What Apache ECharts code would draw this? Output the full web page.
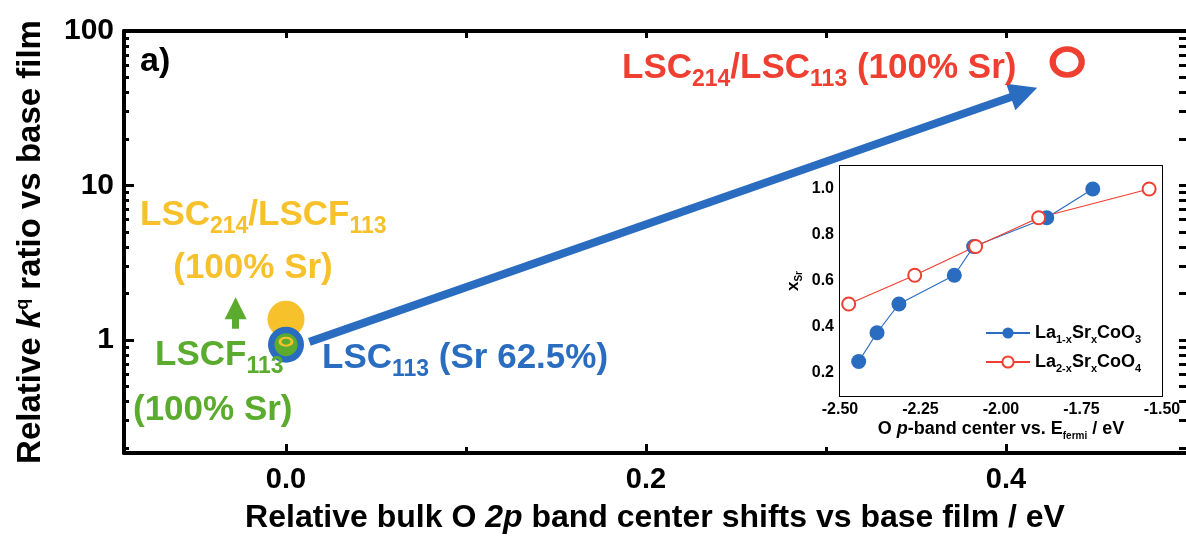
<!DOCTYPE html>
<html>
<head>
<meta charset="utf-8">
<script src="https://cdn.jsdelivr.net/npm/echarts@6/dist/echarts.min.js"></script>
<style>html,body{margin:0;padding:0;background:#fff}#c{width:1186px;height:539px}</style>
</head>
<body>
<div id="c"></div>
<script>
// ---- main panel data ----
const xMajorTicks = [0, 0.2, 0.4];
const xMinorTicks = [0.1, 0.3];
const yMajorTicks = [1, 10, 100];
const yMinorTicks = [0.2,0.3,0.4,0.5,0.6,0.7,0.8,0.9,2,3,4,5,6,7,8,9,20,30,40,50,60,70,80,90];
const lsc113 = [[0, 0.93]];
const lscf113 = [[0, 0.93]];
const lsc214Lscf113 = [[0, 1.36]];
const lsc214Lsc113 = [[0.434, 63]];
const shiftArrow = [[0.013, 0.97], [0.41, 40]];
const lscfArrow = [[-0.028, 1.18], [-0.028, 1.6]];
// ---- inset data ----
const insetXTicks = ['-2.50', '-2.25', '-2.00', '-1.75', '-1.50'];
const insetYTicks = ['0.2', '0.4', '0.6', '0.8', '1.0'];
const la1SrCoO3 = [[-2.442,0.25],[-2.385,0.375],[-2.317,0.5],[-2.145,0.625],[-2.085,0.75],[-1.858,0.875],[-1.715,1.0]];
const la2SrCoO4 = [[-2.473,0.5],[-2.268,0.625],[-2.079,0.75],[-1.883,0.875],[-1.540,1.0]];

const FF = '"Liberation Sans", Arial, sans-serif';
const BLUE = '#2a6cc0', RED = '#ef3f30', YEL = '#f7c12c', GRN = '#5aab2e';

function sub(color, size, drop) {
  return {color: color, fill: color, fontFamily: FF, fontWeight: 'bold', fontSize: size, padding: [drop, 0, 0, 0]};
}
function main(color, size) {
  return {color: color, fill: color, fontFamily: FF, fontWeight: 'bold', fontSize: size};
}
function txt(x, y, text, color, size, subSize, drop, align) {
  return {type: 'text', x: x, y: y, z: 50, style: {
    text: text, align: align || 'left', verticalAlign: 'middle', fill: color,
    font: 'bold ' + size + 'px ' + FF,
    rich: {b: main(color, size), s: sub(color, subSize, drop)}
  }};
}

const chart = echarts.init(document.getElementById('c'), null, {renderer: 'canvas'});
const axBase = {splitLine: {show: false}, axisLine: {onZero: false, lineStyle: {color: '#000', width: 4}}};
const noLine = {show: false, onZero: false};

const option = {
  animation: false,
  textStyle: {fontFamily: FF},
  grid: [
    {left: 124, top: 31, width: 1065, height: 422},
    {left: 840, top: 166, width: 322, height: 230, z: 10}
  ],
  xAxis: [
    {gridIndex: 0, type: 'value', position: 'bottom', min: -0.09, max: 0.5,
      ...axBase,
      axisTick: {inside: true, length: 9, lineStyle: {width: 3, color: '#000'}, customValues: xMajorTicks},
      axisLabel: {customValues: xMajorTicks, formatter: v => v.toFixed(1), fontSize: 29, fontWeight: 'bold', color: '#000', margin: 12},
      name: 'Relative bulk O {i|2p} band center shifts vs base film / eV',
      nameLocation: 'middle', nameGap: 49,
      nameTextStyle: {fontSize: 32, fontWeight: 'bold', color: '#000', rich: {i: {fontSize: 32, fontWeight: 'bold', fontStyle: 'italic', color: '#000'}}}
    },
    {gridIndex: 0, type: 'value', position: 'bottom', min: -0.09, max: 0.5,
      splitLine: {show: false}, axisLine: noLine, axisLabel: {show: false},
      axisTick: {inside: true, length: 6, lineStyle: {width: 3, color: '#000'}, customValues: xMinorTicks}
    },
    {gridIndex: 0, type: 'value', position: 'top', min: -0.09, max: 0.5,
      ...axBase, axisLabel: {show: false},
      axisTick: {inside: true, length: 7, lineStyle: {width: 3, color: '#000'}, customValues: xMajorTicks.concat(xMinorTicks)}
    },
    {gridIndex: 1, type: 'value', position: 'bottom', min: -2.5, max: -1.5, interval: 0.125,
      splitLine: {show: false}, axisLine: {onZero: false, lineStyle: {color: '#000', width: 2}},
      axisTick: {inside: true, length: 4, lineStyle: {width: 1.5, color: '#000'}},
      axisLabel: {fontSize: 16, fontWeight: 'bold', color: '#000', margin: 6,
        formatter: v => { const s = v.toFixed(2); return insetXTicks.indexOf(s) >= 0 ? s : ''; }},
      name: 'O {i|p}-band center vs. E{s|fermi} / eV', nameLocation: 'middle', nameGap: 21,
      nameTextStyle: {fontSize: 18, fontWeight: 'bold', color: '#000',
        rich: {i: {fontSize: 18, fontWeight: 'bold', fontStyle: 'italic', color: '#000'},
               s: {fontSize: 10, fontWeight: 'bold', color: '#000', padding: [14, 0, 0, 0]}}}
    },
    {gridIndex: 1, type: 'value', position: 'top', min: -2.5, max: -1.5, interval: 0.125,
      splitLine: {show: false}, axisLine: {onZero: false, lineStyle: {color: '#000', width: 2}}, axisLabel: {show: false},
      axisTick: {inside: true, length: 4, lineStyle: {width: 1.5, color: '#000'}}
    }
  ],
  yAxis: [
    {gridIndex: 0, type: 'log', logBase: 10, min: 0.185, max: 100, position: 'left',
      ...axBase,
      axisTick: {inside: true, length: 10, lineStyle: {width: 3, color: '#000'}, customValues: yMajorTicks},
      axisLabel: {customValues: yMajorTicks, formatter: v => String(Math.round(v)), fontSize: 30, fontWeight: 'bold', color: '#000', margin: 10},
      name: '{n|Relative }{i|k}{q|q}{n| ratio vs base film}', nameLocation: 'middle', nameGap: 76, nameRotate: 90,
      nameTextStyle: {rich: {
        n: {fontSize: 33, fontWeight: 'bold', color: '#000'},
        i: {fontSize: 33, fontWeight: 'bold', fontStyle: 'italic', color: '#000'},
        q: {fontSize: 18, fontWeight: 'bold', color: '#000', padding: [0, 0, 16, 0]}
      }}
    },
    {gridIndex: 0, type: 'log', logBase: 10, min: 0.185, max: 100, position: 'left',
      splitLine: {show: false}, axisLine: noLine, axisLabel: {show: false},
      axisTick: {inside: true, length: 5, lineStyle: {width: 3, color: '#000'}, customValues: yMinorTicks}
    },
    {gridIndex: 0, type: 'log', logBase: 10, min: 0.185, max: 100, position: 'right',
      splitLine: {show: false}, axisLine: noLine, axisLabel: {show: false},
      axisTick: {inside: true, length: 7, lineStyle: {width: 3, color: '#000'}, customValues: yMinorTicks.concat(yMajorTicks)}
    },
    {gridIndex: 1, type: 'value', min: 0.1, max: 1.1, interval: 0.1, position: 'left',
      splitLine: {show: false}, axisLine: {onZero: false, lineStyle: {color: '#000', width: 2}},
      axisTick: {inside: true, length: 4, lineStyle: {width: 1.5, color: '#000'}},
      axisLabel: {fontSize: 16, fontWeight: 'bold', color: '#000', margin: 6,
        formatter: v => { const s = v.toFixed(1); return insetYTicks.indexOf(s) >= 0 ? s : ''; }},
      name: '{n|x}{s|Sr}', nameLocation: 'middle', nameGap: 36, nameRotate: 90,
      nameTextStyle: {rich: {n: {fontSize: 17, fontWeight: 'bold', color: '#000'},
        s: {fontSize: 10, fontWeight: 'bold', color: '#000', padding: [11, 0, 0, 0]}}}
    },
    {gridIndex: 1, type: 'value', min: 0.1, max: 1.1, interval: 0.1, position: 'right',
      splitLine: {show: false}, axisLine: {onZero: false, lineStyle: {color: '#000', width: 2}}, axisLabel: {show: false},
      axisTick: {inside: true, length: 4, lineStyle: {width: 1.5, color: '#000'}}
    }
  ],
  legend: {
    orient: 'vertical', left: 980, top: 319, itemWidth: 44, itemHeight: 14, itemGap: 8,
    data: ['La1-xSrxCoO3', 'La2-xSrxCoO4'],
    formatter: name => name === 'La1-xSrxCoO3'
      ? '{n|La}{s|1-x}{n|Sr}{s|x}{n|CoO}{s|3}'
      : '{n|La}{s|2-x}{n|Sr}{s|x}{n|CoO}{s|4}',
    textStyle: {rich: {n: {fontSize: 18, fontWeight: 'bold', color: '#000'},
      s: {fontSize: 11, fontWeight: 'bold', color: '#000', padding: [13, 0, 0, 0]}}},
    z: 20
  },
  series: [
    {name: 'arrow', type: 'line', xAxisIndex: 0, yAxisIndex: 0, data: shiftArrow, showSymbol: false,
      lineStyle: {opacity: 0}, silent: true, z: 1,
      markLine: {silent: true, symbol: ['none', 'triangle'], symbolSize: 28, label: {show: false},
        lineStyle: {color: BLUE, width: 8, type: 'solid'},
        data: [[{coord: shiftArrow[0]}, {coord: shiftArrow[1]}]]}},
    {name: 'lscfArrow', type: 'line', xAxisIndex: 0, yAxisIndex: 0, data: lscfArrow, showSymbol: false,
      lineStyle: {opacity: 0}, silent: true, z: 1,
      markLine: {silent: true, symbol: ['none', 'triangle'], symbolSize: 22, label: {show: false},
        lineStyle: {color: GRN, width: 7, type: 'solid'},
        data: [[{coord: lscfArrow[0]}, {coord: lscfArrow[1]}]]}},
    {name: 'LSC214/LSCF113', type: 'scatter', xAxisIndex: 0, yAxisIndex: 0, data: lsc214Lscf113,
      symbolSize: 37, itemStyle: {color: YEL, opacity: 1}, z: 2},
    {name: 'LSC113', type: 'scatter', xAxisIndex: 0, yAxisIndex: 0, data: lsc113,
      symbolSize: 36, itemStyle: {color: BLUE, opacity: 1}, z: 3},
    {name: 'LSCF113', type: 'scatter', xAxisIndex: 0, yAxisIndex: 0, data: lscf113,
      symbolSize: 23, itemStyle: {color: GRN, opacity: 1}, z: 4},
    {name: 'LSCF113 top', type: 'scatter', xAxisIndex: 0, yAxisIndex: 0, data: lscf113,
      symbolSize: [12, 8], symbolOffset: [0, -3], itemStyle: {color: 'rgba(0,0,0,0)', borderColor: YEL, borderWidth: 2.5, opacity: 1}, z: 5},
    {name: 'LSC214/LSC113', type: 'scatter', xAxisIndex: 0, yAxisIndex: 0, data: lsc214Lsc113,
      symbolSize: [29, 26], itemStyle: {color: '#fff', borderColor: RED, borderWidth: 6, opacity: 1}, z: 4},
    {name: 'La1-xSrxCoO3', type: 'line', xAxisIndex: 3, yAxisIndex: 3, data: la1SrCoO3,
      symbol: 'circle', symbolSize: 15, itemStyle: {color: BLUE}, lineStyle: {color: BLUE, width: 1.2}, z: 12},
    {name: 'La2-xSrxCoO4', type: 'line', xAxisIndex: 3, yAxisIndex: 3, data: la2SrCoO4,
      symbol: 'circle', symbolSize: 13, itemStyle: {color: '#fff', borderColor: RED, borderWidth: 2},
      lineStyle: {color: RED, width: 1.2}, z: 12}
  ],
  graphic: [
    {type: 'rect', z: 5, shape: {x: 840, y: 166, width: 322, height: 230}, style: {fill: '#fff'}},
    txt(140, 62, '{b|a)}', '#000', 34, 20, 0),
    txt(622, 68, '{b|LSC}{s|214}{b|/LSC}{s|113}{b| (100% Sr)}', RED, 35, 23, 23),
    txt(140, 215, '{b|LSC}{s|214}{b|/LSCF}{s|113}', YEL, 35, 23, 23),
    txt(253, 268, '{b|(100% Sr)}', YEL, 35, 23, 23, 'center'),
    txt(155, 355, '{b|LSCF}{s|113}', GRN, 35, 23, 23),
    txt(133, 410, '{b|(100% Sr)}', GRN, 35, 23, 23),
    txt(322, 358, '{b|LSC}{s|113}{b| (Sr 62.5%)}', BLUE, 35, 23, 23)
  ]
};
chart.setOption(option);
</script>
</body>
</html>
